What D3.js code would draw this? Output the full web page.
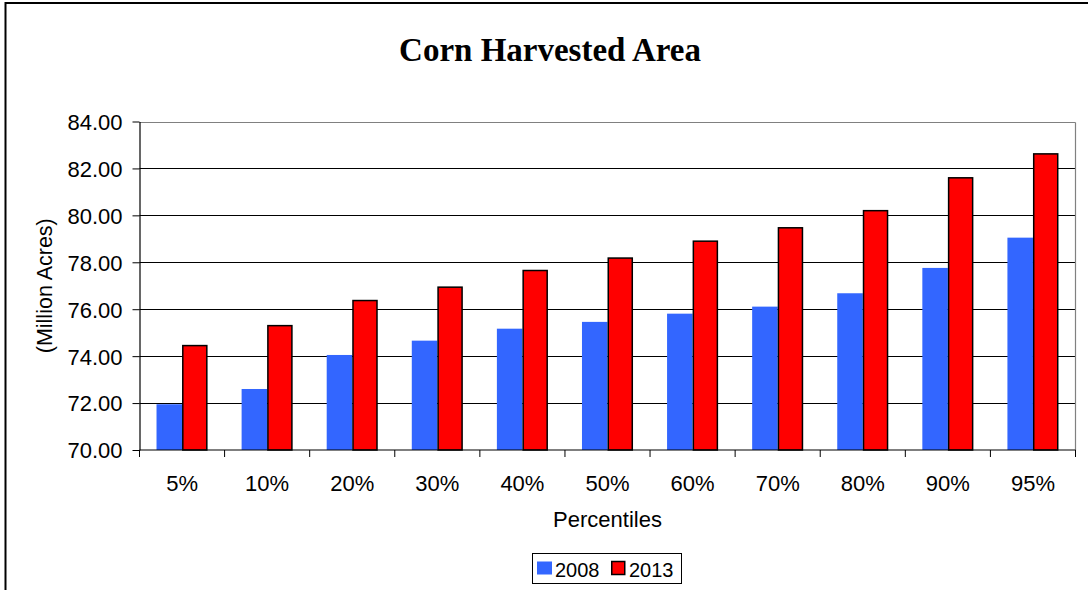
<!DOCTYPE html>
<html>
<head>
<meta charset="utf-8">
<script src="https://cdn.jsdelivr.net/npm/d3@7"></script>
<style>
  html, body { margin: 0; padding: 0; background: #fff; }
  svg { display: block; }
</style>
</head>
<body>
<script>
const categories = ["5%", "10%", "20%", "30%", "40%", "50%", "60%", "70%", "80%", "90%", "95%"];
const seriesNames = ["2008", "2013"];
const values2008 = [71.95, 72.60, 74.05, 74.66, 75.17, 75.46, 75.81, 76.11, 76.68, 77.76, 79.05];
const values2013 = [74.45, 75.30, 76.37, 76.94, 77.65, 78.18, 78.90, 79.47, 80.20, 81.60, 82.62];
const yTicks = [70, 72, 74, 76, 78, 80, 82, 84];
const colors = ["#3366FF", "#FF0000"];

const W = 1088, H = 590;
const plot = { left: 139.5, right: 1075.5, top: 121.5, bottom: 450 };
const sans = "'Liberation Sans', Arial, sans-serif";

const svg = d3.select("body").append("svg").attr("width", W).attr("height", H);

// outer chart border (partially visible: top and left)
svg.append("path")
  .attr("d", `M5.5,${H + 5} V3 H${W + 5}`)
  .attr("fill", "none").attr("stroke", "#000").attr("stroke-width", 2);

// title
svg.append("text")
  .attr("x", 550).attr("y", 61)
  .attr("text-anchor", "middle")
  .attr("font-family", "'Liberation Serif', 'Times New Roman', serif")
  .attr("font-weight", "bold").attr("font-size", 33)
  .text("Corn Harvested Area");

const x = d3.scaleBand().domain(categories).range([plot.left, plot.right]).padding(0);
const xs = d3.scaleBand().domain(seriesNames)
  .range([x.bandwidth() * 0.2, x.bandwidth() * 0.8]).padding(0);
const y = d3.scaleLinear().domain([70, 84]).range([plot.bottom, plot.top]);

// gridlines
svg.append("g").selectAll("line").data(yTicks.filter(d => d > 70)).join("line")
  .attr("x1", plot.left).attr("x2", plot.right)
  .attr("y1", d => Math.round(y(d)) + 0.5).attr("y2", d => Math.round(y(d)) + 0.5)
  .attr("stroke", d => d === 84 ? "#808080" : "#000").attr("stroke-width", 1);

// plot area right border
svg.append("line")
  .attr("x1", plot.right).attr("x2", plot.right)
  .attr("y1", Math.round(plot.top) + 0.5).attr("y2", plot.bottom)
  .attr("stroke", "#808080").attr("stroke-width", 1.2);

// bars
const data = categories.map((c, i) => ({ cat: c, vals: [values2008[i], values2013[i]] }));
const groups = svg.append("g").selectAll("g").data(data).join("g")
  .attr("transform", d => `translate(${x(d.cat)},0)`);
groups.selectAll("rect").data(d => d.vals.map((v, j) => ({ s: seriesNames[j], v, j })))
  .join("rect")
  .attr("x", d => xs(d.s) + (d.j === 1 ? 0.75 : 0))
  .attr("width", d => xs.bandwidth() - (d.j === 1 ? 1.5 : 0))
  .attr("y", d => y(d.v))
  .attr("height", d => plot.bottom - y(d.v))
  .attr("fill", d => colors[d.j])
  .attr("stroke", d => d.j === 1 ? "#000" : "none")
  .attr("stroke-width", 1.5);

// y axis
const yAxis = d3.axisLeft(y).tickValues(yTicks).tickSize(7).tickSizeOuter(0)
  .tickFormat(d3.format(".2f"));
const gy = svg.append("g").attr("transform", `translate(${plot.left},0)`).call(yAxis);
gy.select(".domain").attr("stroke", "#000").attr("stroke-width", 1.2);
gy.selectAll(".tick line").attr("stroke", "#000");
gy.selectAll(".tick text")
  .attr("font-family", sans)
  .attr("font-size", 22).attr("fill", "#000").attr("x", -17).attr("dy", "0.36em");

// x axis
const gx = svg.append("g").attr("transform", `translate(0,${plot.bottom})`);
gx.append("line").attr("x1", plot.left).attr("x2", plot.right).attr("y1", 0).attr("y2", 0)
  .attr("stroke", "#000").attr("stroke-width", 1.2);
const boundaries = categories.map(c => x(c)).concat([plot.right]);
gx.selectAll("line.tk").data(boundaries).join("line").attr("class", "tk")
  .attr("x1", d => d).attr("x2", d => d).attr("y1", 0).attr("y2", 7)
  .attr("stroke", "#000").attr("stroke-width", 1);
gx.selectAll("text").data(categories).join("text")
  .attr("x", d => x(d) + x.bandwidth() / 2).attr("y", 41)
  .attr("text-anchor", "middle")
  .attr("font-family", sans)
  .attr("font-size", 22).attr("fill", "#000")
  .text(d => d);

// axis titles
svg.append("text")
  .attr("x", (plot.left + plot.right) / 2).attr("y", 527)
  .attr("text-anchor", "middle")
  .attr("font-family", sans)
  .attr("font-size", 22).text("Percentiles");
svg.append("text")
  .attr("transform", `translate(52,${(plot.top + plot.bottom) / 2}) rotate(-90)`)
  .attr("text-anchor", "middle")
  .attr("font-family", sans)
  .attr("font-size", 21.5).text("(Million Acres)");

// legend
const lg = svg.append("g");
lg.append("rect").attr("x", 532.5).attr("y", 553.5).attr("width", 149).attr("height", 30)
  .attr("fill", "#fff").attr("stroke", "#000").attr("stroke-width", 1);
const legendX = [537, 611];
seriesNames.forEach((s, j) => {
  lg.append("rect").attr("x", legendX[j] + (j === 1 ? 0.75 : 0)).attr("y", 561.5)
    .attr("width", j === 1 ? 13 : 15).attr("height", 13)
    .attr("fill", colors[j])
    .attr("stroke", j === 1 ? "#000" : "none").attr("stroke-width", 1.5);
  lg.append("text").attr("x", legendX[j] + 18).attr("y", 576.5)
    .attr("font-family", sans)
    .attr("font-size", 20).text(s);
});
</script>
</body>
</html>
